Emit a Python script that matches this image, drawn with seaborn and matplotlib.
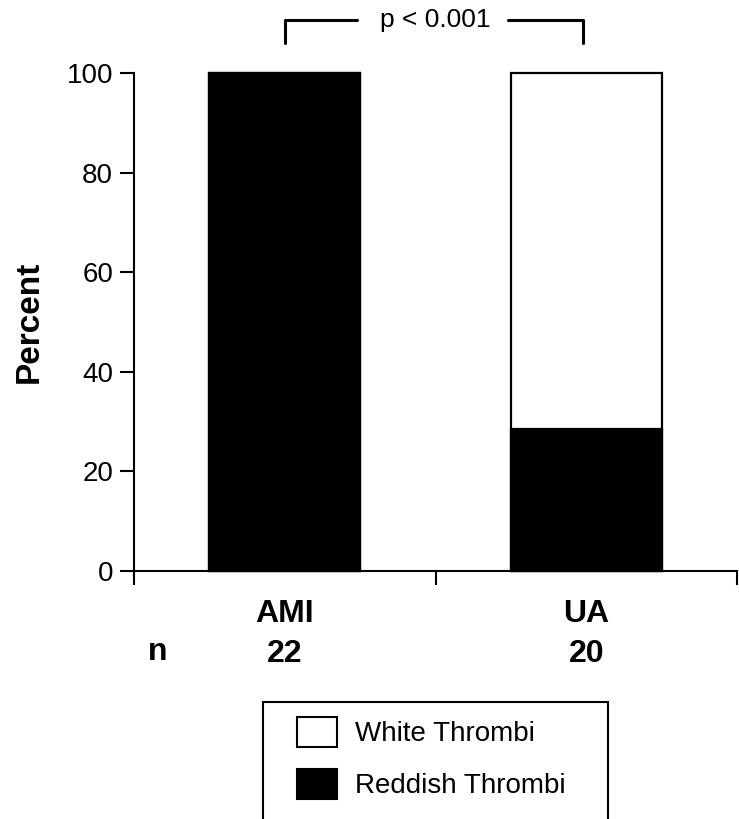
import matplotlib
matplotlib.use("Agg")
import matplotlib.pyplot as plt
import seaborn as sns
import pandas as pd
from matplotlib.patches import Patch, Rectangle

# ---- data ----
categories = ["AMI", "UA"]
n_counts = [22, 20]
reddish_pct = [100.0, 28.5]
white_pct = [0.0, 71.5]
series_labels = ["White Thrombi", "Reddish Thrombi"]
y_ticks = [0, 20, 40, 60, 80, 100]
p_label = "p < 0.001"

df = pd.DataFrame({"group": categories, "reddish": reddish_pct, "white": white_pct})
df["total"] = df["reddish"] + df["white"]

sns.set_style("ticks")
plt.rcParams["font.family"] = ["Liberation Sans", "DejaVu Sans"]
for key in ["text.color", "axes.labelcolor", "xtick.color", "ytick.color", "axes.edgecolor"]:
    plt.rcParams[key] = "black"

W, H = 739, 819
fig = plt.figure(figsize=(W / 100, H / 100), dpi=100)
ax = fig.add_axes([134 / W, 1 - 571 / H, (737 - 134) / W, (571 - 73) / H])

sns.barplot(data=df, x="group", y="total", color="white", edgecolor="black",
            linewidth=1.6, width=0.5, saturation=1, errorbar=None, ax=ax)
sns.barplot(data=df, x="group", y="reddish", color="black", edgecolor="black",
            linewidth=1.6, width=0.5, saturation=1, errorbar=None, ax=ax)
for p in ax.patches:
    p.set_clip_on(False)

ax.set_xlim(-0.5, 1.5)
ax.set_ylim(0, 100)
ax.set_yticks(y_ticks)
ax.tick_params(axis="y", labelsize=20, length=10, width=1.5, pad=5, direction="out",
               colors="black")

ax.set_xticks([-0.5, 0.5, 1.5], labels=["", "", ""])
ax.set_xticks([0, 1], minor=True)
ax.set_xticklabels([f"{c}\n{n}" for c, n in zip(categories, n_counts)], minor=True,
                   fontsize=23, fontweight="bold", linespacing=1.45)
ax.tick_params(axis="x", which="major", length=10, width=1.5, direction="out", colors="black")
ax.tick_params(axis="x", which="minor", length=0, pad=20, colors="black")
ax.set_xlabel("")
ax.set_ylabel("Percent", fontsize=24, fontweight="bold", labelpad=16, color="black")

for s in ["top", "right"]:
    ax.spines[s].set_visible(False)
for s in ["left", "bottom"]:
    ax.spines[s].set_linewidth(1.5)
    ax.spines[s].set_color("black")

# "n" row label
fig.text(158 / W, 1 - 652 / H, "n", ha="center", va="center", fontsize=23,
         fontweight="bold", color="black")

# significance bracket
br_top, br_low = 110.6, 106.0
ax.plot([0, 0, 0.24], [br_low, br_top, br_top], color="black", lw=2.2, clip_on=False)
ax.plot([0.74, 0.99, 0.99], [br_top, br_top, br_low], color="black", lw=2.2, clip_on=False)
ax.text(0.5, br_top, p_label, ha="center", va="center", fontsize=19, clip_on=False,
        color="black")

# legend
handles = [Patch(facecolor="white", edgecolor="black", linewidth=1.5),
           Patch(facecolor="black", edgecolor="black", linewidth=1.5)]
fig.legend(handles, series_labels, loc="upper left",
           bbox_to_anchor=(297 / W, 1 - 717 / H), frameon=False, fontsize=20,
           handlelength=1.44, handleheight=1.26, handletextpad=0.65,
           labelspacing=0.79, borderpad=0, borderaxespad=0, labelcolor="black")
fig.add_artist(Rectangle((263 / W, -0.05), (608 - 263) / W, 1 - 702 / H + 0.05,
                         transform=fig.transFigure, facecolor="none",
                         edgecolor="black", linewidth=1.5))

fig.savefig("out.png", dpi=100)
